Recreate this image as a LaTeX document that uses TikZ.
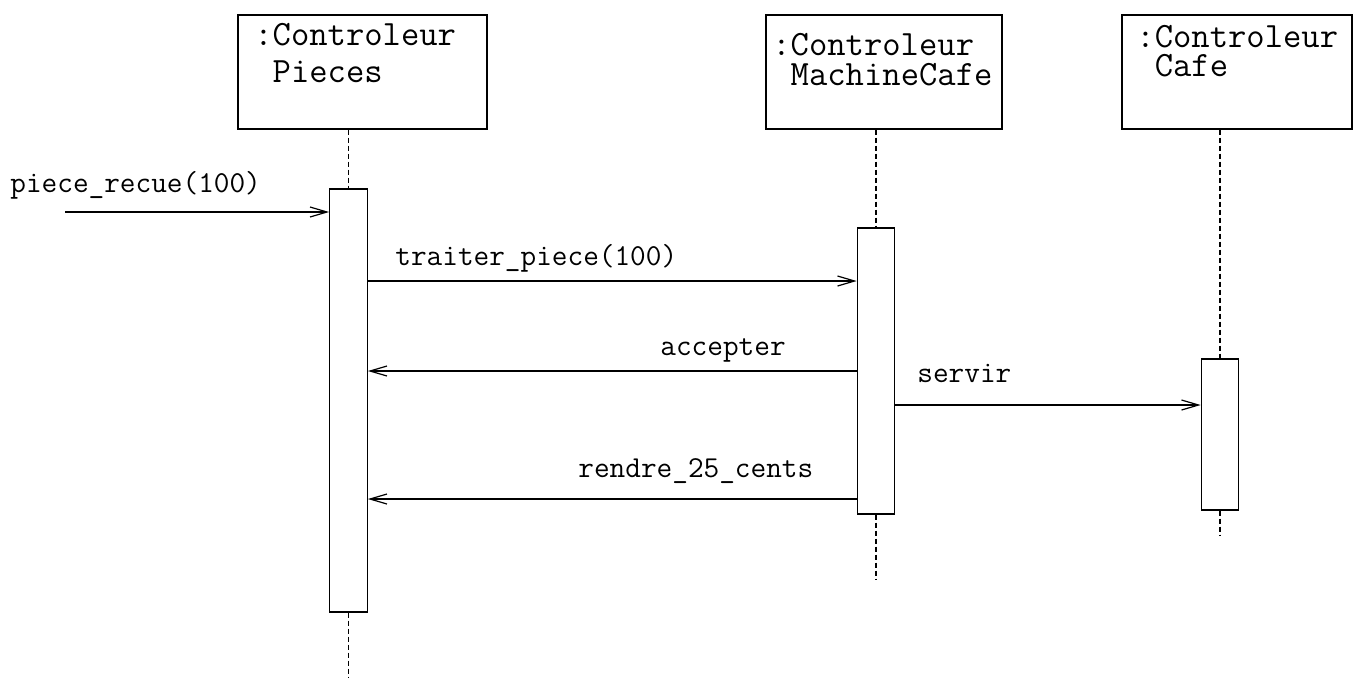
\documentclass[tikz,border=0pt]{standalone}
\usepackage{fontspec}
\usetikzlibrary{arrows.meta}

\tikzset{
	objbox/.style={draw, line width=0.6pt, inner sep=0pt, minimum height=57pt},
	objtext/.style={font=\ttfamily\fontsize{17.8}{15}\selectfont, align=left, inner sep=0pt, anchor=base west},
	msgtext/.style={font=\ttfamily\fontsize{15.2}{17}\selectfont, inner sep=0pt, anchor=base west},
	activ/.style={draw, fill=white, line width=0.6pt, inner sep=0pt, minimum width=18.75pt},
	lifeline/.style={line width=0.6pt, dash pattern=on 2.5pt off 1.5pt},
	msg/.style={line width=0.6pt, -{Straight Barb[length=8.5pt, width=5pt]}}
}

\begin{document}
\begin{tikzpicture}[x=0.5pt, y=-0.5pt]
	\useasboundingbox (0,0) rectangle (1359,677);

	% objects (text placed by its last line)
	\node[objbox, minimum width=124.5pt] (cp) at (362.5,72) {};
	\node[objbox, minimum width=118pt] (cm) at (884,72) {};
	\node[objbox, minimum width=115pt] (cc) at (1237,72) {};
	\node[objtext] (cpt) at (254,82) {:Controleur\\[3.5pt]\hphantom{:}Pieces};
	\node[objtext] (cmt) at (772,85) {:Controleur\\\hphantom{:}MachineCafe};
	\node[objtext] (cct) at (1136,76) {:Controleur\\[-0.5pt]\hphantom{:}Cafe};

	% activations
	\node[activ, minimum height=211.5pt] (a1) at (348.5,400.5) {};
	\node[activ, minimum height=143pt] (a2) at (876,371) {};
	\node[activ, minimum height=75.5pt] (a3) at (1220,434.5) {};

	\coordinate (e1) at (348.5,677);
	\coordinate (e2) at (876,580);
	\coordinate (e3) at (1220,535);
	\draw[lifeline] (a1.north |- cp.south) -- (a1.north) (a1.south) -- (e1);
	\draw[lifeline] (a2.north |- cm.south) -- (a2.north) (a2.south) -- (e2);
	\draw[lifeline] (a3.north |- cc.south) -- (a3.north) (a3.south) -- (e3);

	% messages
	\coordinate (src) at (65,212);
	\coordinate (y1) at (0,281);
	\coordinate (y2) at (0,371);
	\coordinate (y3) at (0,405);
	\coordinate (y4) at (0,499);
	\draw[msg] (src) -- (src -| a1.west);
	\draw[msg] (a1.east |- y1) -- (a2.west |- y1);
	\draw[msg] (a2.west |- y2) -- (a1.east |- y2);
	\draw[msg] (a2.east |- y3) -- (a3.west |- y3);
	\draw[msg] (a2.west |- y4) -- (a1.east |- y4);

	\node[msgtext] (l0) at (10,192) {piece\_recue(100)};
	\node[msgtext] (l1) at (395,265) {traiter\_piece(100)};
	\node[msgtext] (l2) at (660,355) {accepter};
	\node[msgtext] (l3) at (917,382) {servir};
	\node[msgtext] (l4) at (578,477) {rendre\_25\_cents};

\end{tikzpicture}
\end{document}
